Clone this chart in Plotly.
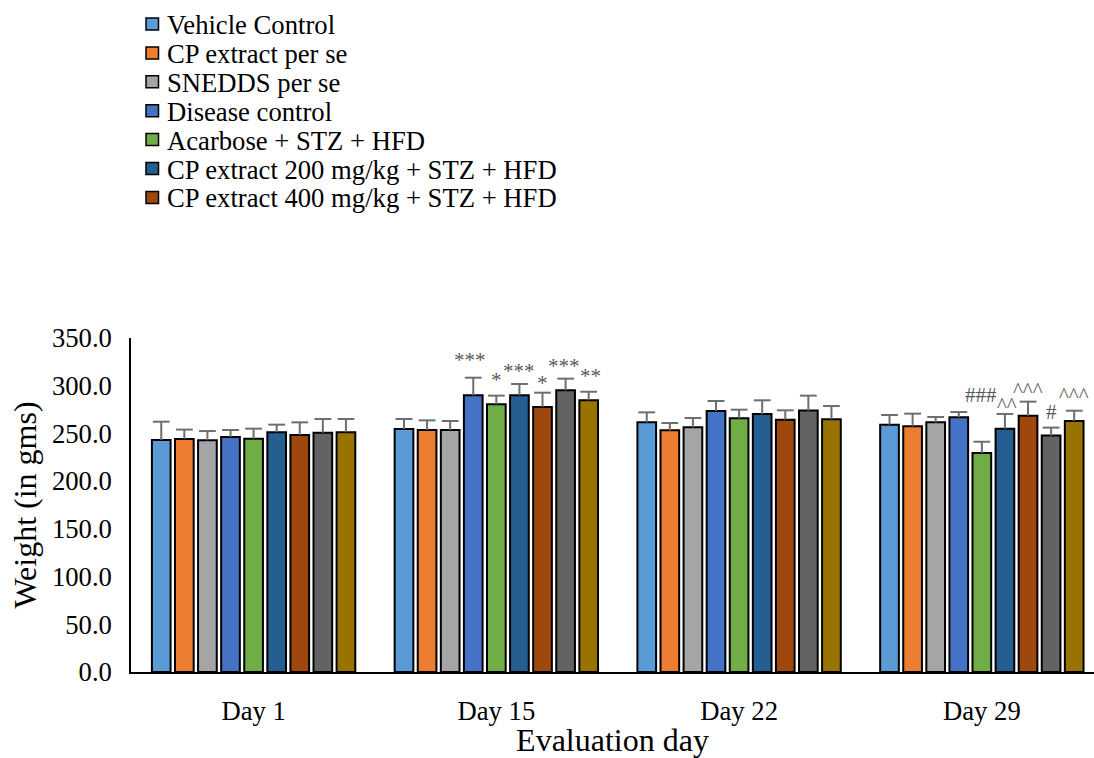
import plotly.graph_objects as go

# Evaluation days on the x axis
days = ["Day 1", "Day 15", "Day 22", "Day 29"]

# Legend names (the last two series carry no legend entry)
legend_names = [
    "Vehicle Control",
    "CP extract per se",
    "SNEDDS per se",
    "Disease control",
    "Acarbose + STZ + HFD",
    "CP extract 200 mg/kg + STZ + HFD",
    "CP extract 400 mg/kg + STZ + HFD",
]

# Mean body weight (g) and SD per group across the evaluation days
vehicle_mean = [243.1, 254.6, 261.6, 259.2]
vehicle_sd = [19.2, 10.5, 10.5, 10.1]
cp_perse_mean = [244.2, 253.6, 253.2, 257.5]
cp_perse_sd = [9.8, 10.1, 7.7, 13.2]
snedds_perse_mean = [242.8, 253.6, 256.4, 261.6]
snedds_perse_sd = [9.7, 9.4, 9.8, 5.6]
disease_mean = [246.3, 289.9, 273.5, 266.9]
disease_sd = [7.3, 18.5, 10.5, 5.5]
acarbose_mean = [244.5, 280.5, 265.8, 229.5]
acarbose_sd = [10.5, 9.1, 9.1, 11.8]
cp200_mean = [251.2, 289.9, 270.4, 255.0]
cp200_sd = [8.0, 11.9, 14.3, 15.4]
cp400_mean = [248.4, 277.7, 264.4, 268.6]
cp400_sd = [13.2, 15.0, 9.8, 14.7]
group8_mean = [250.8, 295.2, 273.9, 247.7]
group8_sd = [14.3, 12.2, 15.7, 8.4]
group9_mean = [251.2, 284.7, 264.8, 263.0]
group9_sd = [13.9, 9.0, 13.9, 10.8]

# Significance marks: (day index, group index, text)
sig_marks = [
    (1, 3, "***"), (1, 4, "*"), (1, 5, "***"), (1, 6, "*"), (1, 7, "***"), (1, 8, "**"),
    (3, 4, "###"), (3, 5, "^^"), (3, 6, "^^^"), (3, 7, "#"), (3, 8, "^^^"),
]

# ---- styling ----
colors = ["#5B9BD5", "#ED7D31", "#A5A5A5", "#4472C4", "#70AD47",
          "#255E91", "#9E480E", "#636363", "#997300"]
means = [vehicle_mean, cp_perse_mean, snedds_perse_mean, disease_mean, acarbose_mean,
         cp200_mean, cp400_mean, group8_mean, group9_mean]
sds = [vehicle_sd, cp_perse_sd, snedds_perse_sd, disease_sd, acarbose_sd,
       cp200_sd, cp400_sd, group8_sd, group9_sd]

FONT = "Liberation Serif"
ERR_COLOR = "#6E6E6E"
SIG_COLOR = "#595959"
PITCH = 0.0951
BAR_W = 0.077
n_groups = len(means)

# glyph-dependent vertical nudges (px) for the significance marks
sig_shift = {"*": 6, "^": 6, "#": 2}
sig_gap = {(1, 3): 24, (1, 4): 22, (1, 5): 19, (1, 6): 16, (1, 7): 19, (1, 8): 22,
           (3, 4): 49, (3, 5): 15, (3, 6): 18, (3, 7): 18, (3, 8): 22}
sig_dx = {(1, 3): -3, (1, 7): -2, (1, 8): 2, (3, 4): -1, (3, 5): 2}

fig = go.Figure()

for j in range(n_groups):
    xs = [i + (j - (n_groups - 1) / 2) * PITCH for i in range(len(days))]
    fig.add_trace(go.Bar(
        x=xs, y=means[j], width=BAR_W,
        marker=dict(color=colors[j], line=dict(color="black", width=2)),
        error_y=dict(type="data", symmetric=False, array=sds[j],
                     arrayminus=[0] * len(days), width=0,
                     color=ERR_COLOR, thickness=2),
        showlegend=False, hoverinfo="y",
    ))
    # caps on top of the error bars
    fig.add_trace(go.Scatter(
        x=xs, y=[m + s for m, s in zip(means[j], sds[j])], mode="markers",
        marker=dict(symbol="line-ew", size=12, line=dict(color=ERR_COLOR, width=2)),
        showlegend=False, hoverinfo="skip",
    ))

annotations = []
for d, g, txt in sig_marks:
    x = d + (g - (n_groups - 1) / 2) * PITCH
    y = means[g][d] + sds[g][d]
    annotations.append(dict(
        x=x, y=y, xref="x", yref="y", text=txt, showarrow=False,
        yanchor="middle", yshift=sig_gap[(d, g)] - sig_shift[txt[0]],
        xshift=sig_dx.get((d, g), 0),
        font=dict(family=FONT, size=21, color=SIG_COLOR),
    ))

# plot area in pixels, used to place the legend block above the chart
L, R, T, B = 131, 1094, 338, 672


def px_x(px):
    return (px - L) / (R - L)


def px_y(py):
    return (B - py) / (B - T)


shapes = []
for k, name in enumerate(legend_names):
    cy = 24 + k * 28.9
    shapes.append(dict(
        type="rect", xref="paper", yref="paper",
        x0=px_x(146), x1=px_x(158.5), y0=px_y(cy + 6), y1=px_y(cy - 6),
        fillcolor=colors[k], line=dict(color="black", width=1.5),
    ))
    annotations.append(dict(
        x=px_x(165), y=px_y(cy + 1), xref="paper", yref="paper",
        text=name, showarrow=False, xanchor="left", yanchor="middle",
        font=dict(family=FONT, size=26.67, color="black"),
    ))

fig.update_layout(
    width=1094, height=758,
    margin=dict(l=L, r=1094 - R, t=T, b=758 - B),
    paper_bgcolor="white", plot_bgcolor="white",
    barmode="overlay",
    font=dict(family=FONT, color="black"),
    showlegend=False,
    annotations=annotations,
    shapes=shapes,
)

fig.update_xaxes(
    range=[-0.505, 3.462], tickvals=list(range(len(days))), ticktext=days,
    showline=True, linecolor="black", linewidth=2, ticks="",
    showgrid=False, zeroline=False, ticklabelstandoff=14, automargin=False,
    tickfont=dict(family=FONT, size=26.67, color="black"),
    title=dict(text="Evaluation day", standoff=14,
               font=dict(family=FONT, size=32, color="black")),
)
fig.update_yaxes(
    range=[0, 350], dtick=50, tickformat=".1f",
    showline=True, linecolor="black", linewidth=1.5, ticks="",
    showgrid=False, zeroline=False, ticklabelstandoff=12, automargin=False,
    tickfont=dict(family=FONT, size=26.67, color="black"),
    title=dict(text="Weight (in gms)", standoff=6,
               font=dict(family=FONT, size=32, color="black")),
)

fig.write_html("out.html")
